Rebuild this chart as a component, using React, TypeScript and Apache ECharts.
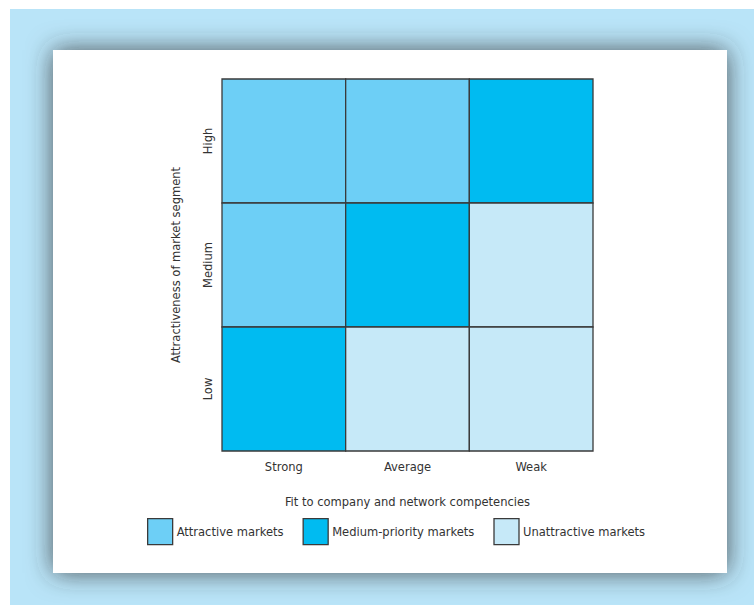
import React, { useEffect, useRef } from "react";
import * as echarts from "echarts";

// Horizontal: fit to company and network competencies
const fitLevels = ["Strong", "Average", "Weak"];
// Vertical: attractiveness of market segment (bottom to top)
const attractLevels = ["Low", "Medium", "High"];

const classNames = ["Attractive markets", "Medium-priority markets", "Unattractive markets"];
const classColors = ["#6dcff6", "#00bbf1", "#c6e9f8"];

// Each cell: [fit index, attractiveness index]
const attractiveCells = [
  [0, 2],
  [1, 2],
  [0, 1],
];
const mediumCells = [
  [2, 2],
  [1, 1],
  [0, 0],
];
const unattractiveCells = [
  [2, 1],
  [1, 0],
  [2, 0],
];

const FONT = "'DejaVu Sans Condensed', 'Liberation Sans Narrow', sans-serif";
const FS = 12.8;

function cellRenderer(color: string) {
  return (_params: any, api: any) => {
    const x = api.value(0);
    const y = api.value(1);
    const p0 = api.coord([x, y]);
    const size = api.size([1, 1]);
    return {
      type: "rect",
      shape: {
        x: p0[0] - size[0] / 2,
        y: p0[1] - size[1] / 2,
        width: size[0],
        height: size[1],
      },
      style: { fill: color, stroke: "#3a3a3a", lineWidth: 1.3 },
    };
  };
}

export default function App() {
  const ref = useRef<HTMLDivElement>(null);

  useEffect(() => {
    document.body.style.margin = "0";
    if (!ref.current) return;
    const chart = echarts.init(ref.current, undefined, { renderer: "svg" });
    const groups = [attractiveCells, mediumCells, unattractiveCells];
    chart.setOption({
      animation: false,
      backgroundColor: "#ffffff",
      graphic: [
        {
          type: "rect",
          z: -10,
          silent: true,
          shape: { x: 10, y: 9, width: 760, height: 620 },
          style: { fill: "#b9e4f8" },
        },
        {
          type: "rect",
          z: -9,
          silent: true,
          shape: { x: 53, y: 50, width: 674, height: 523 },
          style: {
            fill: "#ffffff",
            shadowBlur: 26,
            shadowColor: "rgba(50,50,50,0.8)",
            shadowOffsetX: 0,
            shadowOffsetY: 0,
          },
        },
      ],
      grid: { left: 222, top: 79, width: 371, height: 372 },
      xAxis: {
        type: "category",
        data: fitLevels,
        axisLine: { show: false },
        axisTick: { show: false },
        splitLine: { show: false },
        axisLabel: { color: "#333", fontSize: FS, fontFamily: FONT, margin: 9 },
        name: "Fit to company and network competencies",
        nameLocation: "middle",
        nameGap: 44,
        nameTextStyle: { color: "#333", fontSize: FS, fontFamily: FONT },
      },
      yAxis: {
        type: "category",
        data: attractLevels,
        axisLine: { show: false },
        axisTick: { show: false },
        splitLine: { show: false },
        axisLabel: {
          color: "#333",
          fontSize: FS,
          fontFamily: FONT,
          rotate: 90,
          margin: 8,
        },
        name: "Attractiveness of market segment",
        nameLocation: "middle",
        nameRotate: 90,
        nameGap: 40,
        nameTextStyle: { color: "#333", fontSize: FS, fontFamily: FONT },
      },
      legend: {
        left: 147,
        top: 518,
        padding: 0,
        itemWidth: 25,
        itemHeight: 26,
        itemGap: 19,
        icon: "rect",
        textStyle: { color: "#333", fontSize: FS, fontFamily: FONT, padding: [0, 0, 0, -1] },
        itemStyle: { borderColor: "#3a3a3a", borderWidth: 1.3 },
        data: classNames,
      },
      series: groups.map((cells, i) => ({
        type: "custom",
        name: classNames[i],
        color: classColors[i],
        itemStyle: { color: classColors[i], borderColor: "#3a3a3a", borderWidth: 1.3 },
        renderItem: cellRenderer(classColors[i]),
        encode: { x: 0, y: 1 },
        data: cells,
      })),
    });
    return () => chart.dispose();
  }, []);

  return <div ref={ref} style={{ width: 754, height: 605 }} />;
}
